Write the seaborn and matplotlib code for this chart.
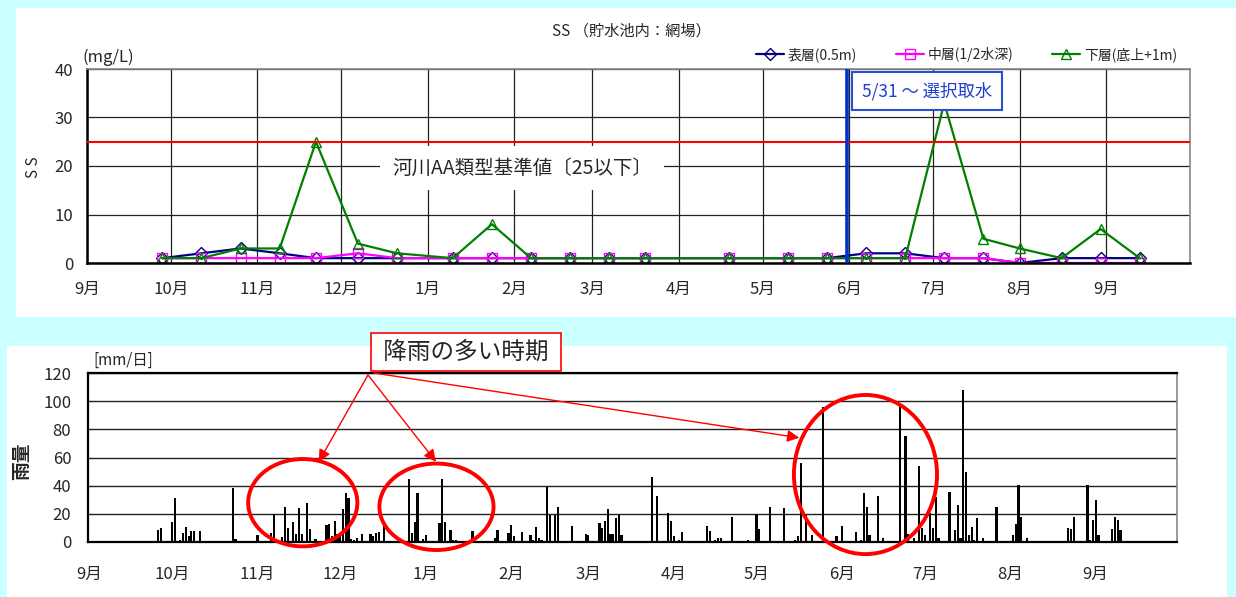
import numpy as np
import pandas as pd
import matplotlib
matplotlib.use("Agg")
import matplotlib.pyplot as plt
from matplotlib.patches import Rectangle, Ellipse
import seaborn as sns

# ---- data ----
season_start = "2006-09-01"
season_end = "2007-09-30"

ss_dates = ["2006-09-28", "2006-10-12", "2006-10-26", "2006-11-09", "2006-11-22",
            "2006-12-07", "2006-12-21", "2007-01-10", "2007-01-24", "2007-02-07",
            "2007-02-21", "2007-03-07", "2007-03-20", "2007-04-19", "2007-05-10",
            "2007-05-24", "2007-06-07", "2007-06-21", "2007-07-05", "2007-07-19",
            "2007-08-01", "2007-08-16", "2007-08-30", "2007-09-13"]
ss_surface = [1, 2, 3, 2, 1, 1, 1, 1, 1, 1, 1, 1, 1, 1, 1, 1, 2, 2, 1, 1, 0, 1, 1, 1]
ss_middle = [1, 1, 1, 1, 1, 2, 1, 1, 1, 1, 1, 1, 1, 1, 1, 1, 1, 1, 1, 1, 0, 0, 0, 0]
ss_bottom = [1, 1, 3, 3, 25, 4, 2, 1, 8, 1, 1, 1, 1, 1, 1, 1, 1, 1, 33, 5, 3, 1, 7, 1]
layer_names = ["表層(0.5m)", "中層(1/2水深)", "下層(底上+1m)"]

standard_ss = 25
intake_date = "2007-05-31"

rain_dates = [
    "2006-09-26", "2006-09-27",
    "2006-10-01", "2006-10-02", "2006-10-04", "2006-10-05", "2006-10-06", "2006-10-07",
    "2006-10-08", "2006-10-09", "2006-10-11", "2006-10-23", "2006-10-24",
    "2006-11-01", "2006-11-06", "2006-11-07", "2006-11-10", "2006-11-11", "2006-11-12",
    "2006-11-14", "2006-11-15", "2006-11-16", "2006-11-17", "2006-11-19", "2006-11-20",
    "2006-11-22", "2006-11-26", "2006-11-27", "2006-11-28", "2006-11-29", "2006-11-30",
    "2006-12-01", "2006-12-02", "2006-12-03", "2006-12-04", "2006-12-05", "2006-12-06",
    "2006-12-07", "2006-12-09", "2006-12-12", "2006-12-13", "2006-12-14", "2006-12-15",
    "2006-12-17", "2006-12-26", "2006-12-27", "2006-12-28", "2006-12-29", "2006-12-31",
    "2007-01-01", "2007-01-06", "2007-01-07", "2007-01-08", "2007-01-10", "2007-01-11",
    "2007-01-12", "2007-01-18", "2007-01-26", "2007-01-27", "2007-01-31",
    "2007-02-01", "2007-02-02", "2007-02-05", "2007-02-08", "2007-02-09", "2007-02-10",
    "2007-02-11", "2007-02-12", "2007-02-14", "2007-02-15", "2007-02-17", "2007-02-18",
    "2007-02-23", "2007-02-28",
    "2007-03-01", "2007-03-05", "2007-03-06", "2007-03-07", "2007-03-08", "2007-03-09",
    "2007-03-10", "2007-03-11", "2007-03-12", "2007-03-13", "2007-03-23", "2007-03-24",
    "2007-03-26", "2007-03-27", "2007-03-30", "2007-03-31",
    "2007-04-01", "2007-04-03", "2007-04-04", "2007-04-13", "2007-04-14", "2007-04-16",
    "2007-04-17", "2007-04-18", "2007-04-22", "2007-04-23", "2007-04-26", "2007-04-28",
    "2007-05-01", "2007-05-02", "2007-05-06", "2007-05-07", "2007-05-11", "2007-05-15",
    "2007-05-16", "2007-05-17", "2007-05-19", "2007-05-21", "2007-05-25", "2007-05-30",
    "2007-06-01", "2007-06-06", "2007-06-08", "2007-06-09", "2007-06-10", "2007-06-11",
    "2007-06-14", "2007-06-16", "2007-06-22", "2007-06-24", "2007-06-25", "2007-06-27",
    "2007-06-29", "2007-06-30",
    "2007-07-01", "2007-07-03", "2007-07-04", "2007-07-05", "2007-07-06", "2007-07-10",
    "2007-07-12", "2007-07-13", "2007-07-14", "2007-07-15", "2007-07-16", "2007-07-17",
    "2007-07-18", "2007-07-19", "2007-07-20", "2007-07-22", "2007-07-26", "2007-07-27",
    "2007-07-30",
    "2007-08-02", "2007-08-03", "2007-08-04", "2007-08-05", "2007-08-07", "2007-08-22",
    "2007-08-23", "2007-08-24", "2007-08-29", "2007-08-30", "2007-08-31",
    "2007-09-01", "2007-09-02", "2007-09-07", "2007-09-08", "2007-09-09", "2007-09-10",
]
rain_mm = [
    8.5, 10,
    14, 31, 1.5, 6.5, 10.5, 4.5, 8, 8, 8, 38, 2.3,
    4.8, 6.7, 20, 3.4, 25, 10, 14, 5.5, 24, 5.5, 27.5, 9, 2.3, 12.4, 13, 4, 15, 6,
    4, 23.4, 34.5, 31.3, 2, 1.5, 3, 5.6, 5.6, 4, 6.3, 7, 14, 45, 6.6, 14, 35, 2.2,
    5, 13.7, 44.5, 14, 8.8, 1.5, 1.5, 7.5, 3, 8.8, 6.7,
    12.4, 4.5, 7.4, 5, 1.7, 10.7, 3, 1.2, 39.3, 19, 19, 24.8, 11.4, 5.6,
    5.2, 13.3, 9.8, 14.8, 23.3, 6, 6, 16.7, 19, 4.8, 0.7, 46.4, 33, 0.7, 20.7, 14.8,
    4.5, 1.2, 7, 11.4, 7.6, 1.7, 3, 2.6, 17.6, 0.7, 0.7, 1.4,
    19.8, 9, 24.8, 0.7, 24, 1.7, 4, 56, 19.3, 5, 96, 4,
    11.4, 7.4, 1.2, 34.8, 24.8, 5, 32.4, 3, 97.6, 75.5, 5.5, 3, 54, 10,
    4.8, 20.7, 10, 32, 3, 35.7, 8.3, 26.4, 3, 108, 49.5, 4.8, 10.7, 1.2, 16.7, 3, 0.7, 24.8, 0.7,
    4.8, 13, 40.2, 17.4, 3, 10, 9, 18, 40.2, 1.2, 15.7,
    29.8, 4.8, 9, 17.4, 15.7, 8.3,
]

# ---- frames ----
t0 = pd.Timestamp(season_start)
days = pd.date_range(season_start, season_end, freq="D")
months = pd.date_range(season_start, "2007-09-01", freq="MS")
month_pos = (months - t0).days
month_labels = [f"{m.month}月" for m in months]
axis_end = (pd.Timestamp("2007-10-01") - t0).days

ss = pd.DataFrame({"day": (pd.to_datetime(ss_dates) - t0).days,
                   layer_names[0]: ss_surface,
                   layer_names[1]: ss_middle,
                   layer_names[2]: ss_bottom})

rain = pd.Series(rain_mm, index=pd.to_datetime(rain_dates)).reindex(days, fill_value=0)
rain_df = pd.DataFrame({"idx": np.arange(len(days)), "mm": rain.values})

# ---- figure ----
sns.set_style("white")
plt.rcParams["font.family"] = ["Noto Sans CJK JP", "DejaVu Sans"]

W, H = 1236, 597
fig = plt.figure(figsize=(W / 100, H / 100), dpi=100, facecolor="#CCFFFF")
fig.add_artist(Rectangle((16 / W, 1 - 317 / H), (W - 16) / W, 309 / H,
                         transform=fig.transFigure, fc="white", ec="none", zorder=-5))
fig.add_artist(Rectangle((7 / W, 0), 1220 / W, 251 / H,
                         transform=fig.transFigure, fc="white", ec="none", zorder=-5))

# top: SS
ax = fig.add_axes([87 / W, 1 - 263 / H, 1103 / W, 194 / H])
styles = [("#000080", "D", 6), ("#FF00FF", "s", 7), ("#008000", "^", 7)]
for name, (col, mk, ms) in zip(layer_names, styles):
    sns.lineplot(data=ss, x="day", y=name, ax=ax, color=col, lw=1.6, marker=mk,
                 ms=ms, mfc="none", mec=col, mew=1.0, label=name)

ax.axhline(standard_ss, color="red", lw=1.5, zorder=3)
intake = (pd.Timestamp(intake_date) - t0).days
ax.axvline(intake, color="#0033CC", lw=2.6, zorder=4)

ax.set_xlim(0, axis_end)
ax.set_ylim(0, 40)
ax.set_xticks(month_pos, month_labels)
ax.set_yticks([0, 10, 20, 30, 40])
ax.grid(True, color="#222222", lw=0.9)
ax.tick_params(length=0, labelsize=12)
ax.tick_params(axis="x", pad=13)
ax.tick_params(axis="y", pad=10)
ax.set_xlabel("")
ax.set_ylabel("")
for s in ["left", "bottom"]:
    ax.spines[s].set_color("black")
    ax.spines[s].set_linewidth(1.8)
for s in ["top", "right"]:
    ax.spines[s].set_color("#888888")
    ax.spines[s].set_linewidth(1.2)

ax.text(155.8, 19.6, "河川AA類型基準値〔25以下〕", fontsize=14, ha="center", va="center",
        zorder=5, bbox=dict(boxstyle="square,pad=0.6", fc="white", ec="none"))
ax.annotate("5/31 ～ 選択取水", xy=(intake, 35.5), xytext=(11, 0), textcoords="offset points",
            fontsize=12.5, color="#1F3FCF", ha="left", va="center", zorder=6,
            bbox=dict(boxstyle="square,pad=0.55", fc="white", ec="#2A4FD6", lw=1.5))

ax.legend(loc="lower right", bbox_to_anchor=(0.995, 1.0), ncol=3, frameon=False,
          fontsize=10, handlelength=2.0, handletextpad=0.3, columnspacing=2.8,
          borderaxespad=0.1)

fig.text(631 / W, 1 - 31 / H, "SS （貯水池内：網場）", fontsize=11, ha="center", va="center")
fig.text(83 / W, 1 - 57 / H, "(mg/L)", fontsize=12, ha="left", va="center")
fig.text(34 / W, 1 - 167 / H, "S S", fontsize=11, rotation=90, ha="center", va="center")

# bottom: rainfall
ax2 = fig.add_axes([88 / W, 1 - 542 / H, 1089 / W, 169 / H])
sns.barplot(data=rain_df, x="idx", y="mm", color="black", width=0.8, errorbar=None,
            linewidth=0, ax=ax2)
ax2.set_xlim(-0.5, axis_end - 0.5)
ax2.set_ylim(0, 120)
ax2.set_xticks(month_pos, month_labels)
ax2.set_yticks(range(0, 121, 20))
ax2.yaxis.grid(True, color="#222222", lw=1.0)
ax2.xaxis.grid(False)
ax2.tick_params(length=0, labelsize=12)
ax2.tick_params(axis="x", pad=17)
ax2.tick_params(axis="y", pad=12)
ax2.set_xlabel("")
ax2.set_ylabel("")
for s in ["left", "bottom", "top"]:
    ax2.spines[s].set_color("black")
    ax2.spines[s].set_linewidth(1.6)
ax2.spines["right"].set_color("#888888")
ax2.spines["right"].set_linewidth(1.2)

fig.text(93 / W, 1 - 360 / H, "[mm/日]", fontsize=11, ha="left", va="center")
fig.text(22 / W, 1 - 461 / H, "雨量", fontsize=13.5, fontweight="bold", rotation=90,
         ha="center", va="center")

for cx, cy, w, h in [(77.4, 27.9, 39.6, 62), (125.9, 25, 41.4, 61.4), (281.5, 47.9, 51.9, 113)]:
    ax2.add_patch(Ellipse((cx, cy), w, h, fill=False, ec="red", lw=2.8, clip_on=False, zorder=6))

fig.text(466 / W, 1 - 352 / H, " 降雨の多い時期 ", fontsize=17, ha="center", va="center",
         bbox=dict(boxstyle="square,pad=0.3", fc="white", ec="red", lw=1.2))
for (tx, ty), (hx, hy) in [((368, 375), (83.2, 57)), ((368, 375), (125.7, 57)),
                           ((374, 373), (257.5, 74))]:
    ax2.annotate("", xy=(hx, hy), xytext=(tx / W, 1 - ty / H), textcoords="figure fraction",
                 arrowprops=dict(arrowstyle="-|>", color="red", lw=1.0, mutation_scale=18,
                                 shrinkA=0, shrinkB=0), annotation_clip=False, zorder=7)

fig.savefig("out.png", dpi=100, facecolor=fig.get_facecolor())
